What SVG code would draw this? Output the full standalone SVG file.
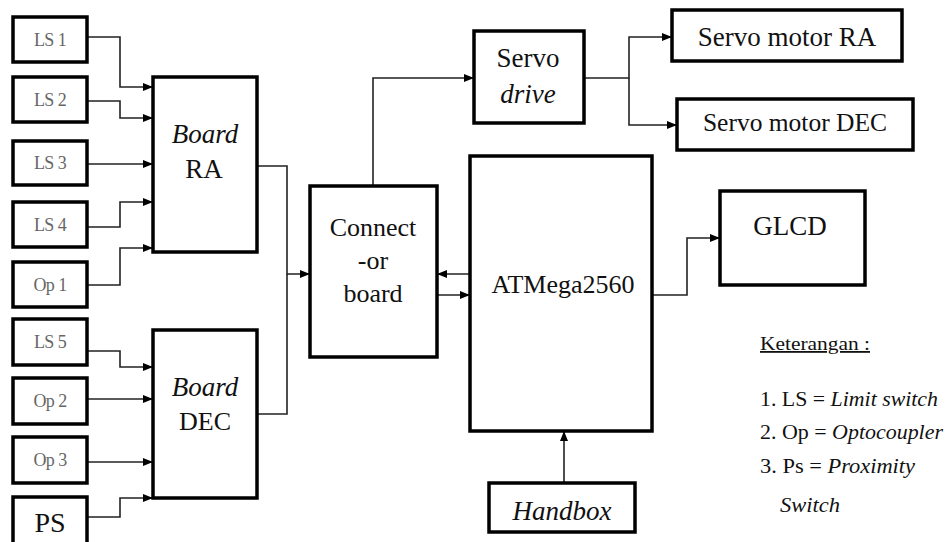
<svg xmlns="http://www.w3.org/2000/svg" width="946" height="542" viewBox="0 0 946 542" font-family="Liberation Serif, serif">
<style>
.box{fill:#fff;stroke:#000;stroke-width:3.5}
.c{fill:none;stroke:#222;stroke-width:1.6}
.t{fill:#111;text-anchor:middle}
.s{font-size:18px;fill:#666;letter-spacing:-0.6px}
.m{font-size:27px}
.i{font-style:italic}
.l{font-size:20px;fill:#111}
</style>
<defs>
<marker id="a" viewBox="0 0 10 10" refX="10" refY="5" markerWidth="10" markerHeight="10" markerUnits="userSpaceOnUse" orient="auto">
<path d="M0,1 L10,5 L0,9 z" fill="#000"/>
</marker>
</defs>
<rect width="946" height="542" fill="#fff"/>
<g id="connectors">
<path class="c" d="M87,37 H120 V87 H153" marker-end="url(#a)"/>
<path class="c" d="M87,101 H120 V118 H153" marker-end="url(#a)"/>
<path class="c" d="M87,164 H153" marker-end="url(#a)"/>
<path class="c" d="M87,227 H120 V202 H153" marker-end="url(#a)"/>
<path class="c" d="M87,285 H120 V248 H153" marker-end="url(#a)"/>
<path class="c" d="M87,351 H120 V367 H153" marker-end="url(#a)"/>
<path class="c" d="M87,399 H153" marker-end="url(#a)"/>
<path class="c" d="M87,462 H153" marker-end="url(#a)"/>
<path class="c" d="M87,517 H120 V498 H153" marker-end="url(#a)"/>
<path class="c" d="M257,166 H287 V274 H310" marker-end="url(#a)"/>
<path class="c" d="M257,414 H287 V274"/>
<path class="c" d="M373,186 V78 H474" marker-end="url(#a)"/>
<path class="c" d="M470,274 H437" marker-end="url(#a)"/>
<path class="c" d="M437,295 H470" marker-end="url(#a)"/>
<path class="c" d="M584,78 H629 V37 H672" marker-end="url(#a)"/>
<path class="c" d="M629,78 V125 H677" marker-end="url(#a)"/>
<path class="c" d="M652,295 H687 V238 H720" marker-end="url(#a)"/>
<path class="c" d="M564,483 V431" marker-end="url(#a)"/>
</g>
<g id="ls1"><rect class="box" x="13" y="17" width="74" height="45"/><text class="t s" x="50" y="46">LS 1</text></g>
<g id="ls2"><rect class="box" x="13" y="77" width="74" height="45"/><text class="t s" x="50" y="106">LS 2</text></g>
<g id="ls3"><rect class="box" x="13" y="141" width="74" height="44"/><text class="t s" x="50" y="169">LS 3</text></g>
<g id="ls4"><rect class="box" x="13" y="202" width="74" height="45"/><text class="t s" x="50" y="231">LS 4</text></g>
<g id="op1"><rect class="box" x="13" y="262" width="74" height="45"/><text class="t s" x="50" y="291">Op 1</text></g>
<g id="ls5"><rect class="box" x="13" y="319" width="74" height="46"/><text class="t s" x="50" y="348">LS 5</text></g>
<g id="op2"><rect class="box" x="13" y="378" width="74" height="46"/><text class="t s" x="50" y="407">Op 2</text></g>
<g id="op3"><rect class="box" x="13" y="437" width="74" height="46"/><text class="t s" x="50" y="466">Op 3</text></g>
<g id="ps"><rect class="box" x="13" y="497" width="74" height="55"/><text class="t" style="font-size:28px" x="50" y="532">PS</text></g>
<g id="board-ra"><rect class="box" x="153" y="77" width="104" height="175"/><text class="t m i" x="205" y="143">Board</text><text class="t m" x="204" y="178">RA</text></g>
<g id="board-dec"><rect class="box" x="153" y="330" width="104" height="168"/><text class="t m i" x="205" y="396">Board</text><text class="t m" style="font-size:26px" x="205" y="430">DEC</text></g>
<g id="connector-board"><rect class="box" x="310" y="186" width="127" height="171"/><text class="t m" style="font-size:26px" x="373" y="236">Connect</text><text class="t m" style="font-size:26px" x="373" y="269">-or</text><text class="t m" style="font-size:26px" x="373" y="302">board</text></g>
<g id="servo-drive"><rect class="box" x="474" y="31" width="110" height="92"/><text class="t m" x="528" y="67">Servo</text><text class="t m i" x="528" y="103">drive</text></g>
<g id="atmega"><rect class="box" x="470" y="156" width="182" height="275"/><text class="t m" style="font-size:26px" x="563" y="293">ATMega2560</text></g>
<g id="servo-ra"><rect class="box" x="672" y="10" width="230" height="51"/><text class="t m" x="787" y="46">Servo motor RA</text></g>
<g id="servo-dec"><rect class="box" x="677" y="99" width="236" height="51"/><text class="t m" style="font-size:25.5px" x="795" y="131">Servo motor DEC</text></g>
<g id="glcd"><rect class="box" x="720" y="191" width="145" height="94"/><text class="t m" x="790" y="235">GLCD</text></g>
<g id="handbox"><rect class="box" x="489" y="483" width="146" height="49"/><text class="t i" style="font-size:27px" x="562" y="520">Handbox</text></g>
<g id="legend">
<text class="l" x="760" y="350" style="font-size:18px;text-decoration:underline" textLength="110" lengthAdjust="spacingAndGlyphs">Keterangan :</text>
<text class="l" x="760" y="406" textLength="178" lengthAdjust="spacingAndGlyphs">1. LS = <tspan font-style="italic">Limit switch</tspan></text>
<text class="l" x="760" y="439" textLength="183" lengthAdjust="spacingAndGlyphs">2. Op = <tspan font-style="italic">Optocoupler</tspan></text>
<text class="l" x="760" y="473" textLength="155" lengthAdjust="spacingAndGlyphs">3. Ps = <tspan font-style="italic">Proximity</tspan></text>
<text class="l" x="780" y="512" font-style="italic" textLength="60" lengthAdjust="spacingAndGlyphs">Switch</text>
</g>
</svg>
